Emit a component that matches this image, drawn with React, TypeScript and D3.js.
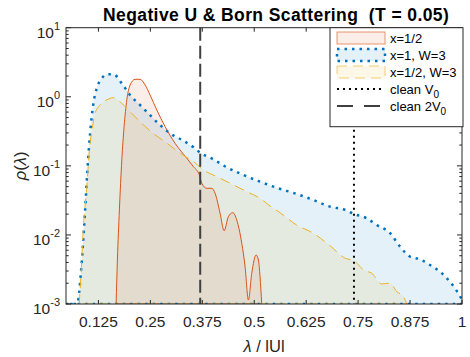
import * as d3 from 'd3';

// lambda / |U| and rho(lambda)
const redX = [0.1676, 0.1707, 0.1755, 0.1813, 0.1868, 0.1933, 0.2013, 0.2133, 0.2253, 0.2374, 0.2494, 0.2655, 0.2855, 0.3095, 0.3377, 0.3536, 0.368, 0.3738, 0.3858, 0.3979, 0.4058, 0.4178, 0.4275, 0.4378, 0.4484, 0.458, 0.47, 0.478, 0.486, 0.494, 0.5045, 0.51, 0.514, 0.518];
const redRho = [0.001, 0.00434, 0.023, 0.122, 0.369, 0.9, 1.48, 1.79, 1.79, 1.48, 1.06, 0.644, 0.369, 0.212, 0.129, 0.0973, 0.0738, 0.056, 0.0473, 0.0473, 0.0401, 0.0206, 0.0115, 0.0184, 0.021, 0.0164, 0.00757, 0.00347, 0.00114, 0.00278, 0.00512, 0.00434, 0.00248, 0.001];

const blueX = [0.047, 0.0738, 0.0827, 0.0875, 0.093, 0.0985, 0.105, 0.113, 0.121, 0.133, 0.145, 0.161, 0.181, 0.201, 0.221, 0.245, 0.269, 0.2975, 0.326, 0.354, 0.37, 0.402, 0.434, 0.474, 0.514, 0.558, 0.602, 0.642, 0.683, 0.719, 0.74, 0.771, 0.795, 0.827, 0.851, 0.875, 0.899, 0.923, 0.947, 0.971, 0.991, 1.0];
const blueRho = [0.001, 0.001, 0.00278, 0.00676, 0.0229, 0.0871, 0.295, 0.805, 1.33, 1.85, 2.12, 2.12, 1.57, 1.06, 0.805, 0.577, 0.413, 0.295, 0.237, 0.186, 0.155, 0.124, 0.0953, 0.0738, 0.059, 0.0473, 0.0392, 0.0321, 0.0256, 0.023, 0.0201, 0.0174, 0.0139, 0.0106, 0.00676, 0.00484, 0.00444, 0.00367, 0.00294, 0.0021, 0.00143, 0.00115];

const yelX = [0.0788, 0.0827, 0.0889, 0.0971, 0.1033, 0.109, 0.117, 0.129, 0.145, 0.161, 0.181, 0.205, 0.229, 0.257, 0.29, 0.322, 0.354, 0.378, 0.41, 0.442, 0.482, 0.514, 0.538, 0.562, 0.602, 0.642, 0.683, 0.719, 0.74, 0.763, 0.783, 0.807, 0.827, 0.843, 0.859, 0.867];
const yelRho = [0.001, 0.00248, 0.01315, 0.0499, 0.17, 0.313, 0.577, 0.76, 0.9, 0.97, 0.805, 0.577, 0.413, 0.295, 0.212, 0.152, 0.115, 0.0871, 0.0697, 0.056, 0.0423, 0.0339, 0.0262, 0.021, 0.0139, 0.0106, 0.00692, 0.00459, 0.00424, 0.0031, 0.00278, 0.00195, 0.002, 0.00151, 0.00128, 0.001];

const cleanV0 = 0.74;
const clean2V0 = 0.37;

const xTicks = [0.125, 0.25, 0.375, 0.5, 0.625, 0.75, 0.875, 1];
const xTickLabels = ['0.125', '0.25', '0.375', '0.5', '0.625', '0.75', '0.875', '1'];
const yExponents = [-3, -2, -1, 0, 1];

const legendLabels = ['x=1/2', 'x=1, W=3', 'x=1/2, W=3', 'clean V', 'clean 2V'];

const font = '"Liberation Sans", Arial, Helvetica, sans-serif';
const axisColor = '#262626';

export default function App() {
  const width = 470,
    height = 357,
    left = 66,
    right = 462,
    top = 27.7,
    bottom = 304;

  const x = d3.scaleLinear().domain([0.047, 1]).range([left, right]);
  const y = d3.scaleLog().domain([1e-3, 10]).range([bottom, top]);

  const area = d3
    .area<[number, number]>()
    .x((d) => x(d[0]))
    .y0(bottom)
    .y1((d) => y(d[1]))
    .curve(d3.curveMonotoneX);

  const series = [
    { xs: redX, ys: redRho, color: '#D95319', dash: undefined, sw: 1 },
    { xs: blueX, ys: blueRho, color: '#0072BD', dash: '2.5 5', sw: 2.5 },
    { xs: yelX, ys: yelRho, color: '#EDB120', dash: '10 6', sw: 1 },
  ];

  const minor: number[] = [];
  for (let e = -3; e < 1; e++) for (let m = 2; m < 10; m++) minor.push(m * 10 ** e);

  return (
    <svg width={width} height={height} style={{ display: 'block', position: 'absolute', left: 0, top: 0 }} fontFamily={font}>
      <defs>
        <clipPath id="plot">
          <rect x={left} y={top} width={right - left} height={bottom - top} />
        </clipPath>
      </defs>
      <rect x={0} y={0} width={width} height={height} fill="#fff" />

      <g clipPath="url(#plot)">
        {series.map((s, i) => (
          <path key={'f' + i} d={area(s.xs.map((v, j) => [v, s.ys[j]]) as [number, number][]) || ''} fill={s.color} fillOpacity={0.1} stroke="none" />
        ))}
        {series.map((s, i) => (
          <path key={'l' + i} d={area(s.xs.map((v, j) => [v, s.ys[j]]) as [number, number][]) || ''} fill="none" stroke={s.color} strokeWidth={s.sw} strokeDasharray={s.dash} />
        ))}
        <line x1={x(cleanV0)} x2={x(cleanV0)} y1={top} y2={bottom} stroke="#000" strokeWidth={2} strokeDasharray="2 4" />
        <line x1={x(clean2V0)} x2={x(clean2V0)} y1={top} y2={bottom} stroke="#404040" strokeWidth={2} strokeDasharray="13 5" />
      </g>

      {/* axes box and ticks */}
      <g stroke={axisColor} strokeWidth={1} fill="none">
        <rect x={left} y={top} width={right - left} height={bottom - top} />
        {xTicks.map((t) => (
          <g key={'xt' + t}>
            <line x1={x(t)} x2={x(t)} y1={bottom} y2={bottom - 4} />
            <line x1={x(t)} x2={x(t)} y1={top} y2={top + 4} />
          </g>
        ))}
        {yExponents.map((e) => (
          <g key={'yt' + e}>
            <line x1={left} x2={left + 5} y1={y(10 ** e)} y2={y(10 ** e)} />
            <line x1={right} x2={right - 5} y1={y(10 ** e)} y2={y(10 ** e)} />
          </g>
        ))}
        {minor.map((m, i) => (
          <g key={'ym' + i}>
            <line x1={left} x2={left + 2.7} y1={y(m)} y2={y(m)} />
            <line x1={right} x2={right - 2.7} y1={y(m)} y2={y(m)} />
          </g>
        ))}
      </g>

      {/* tick labels */}
      <g fill={axisColor} fontSize={15.5}>
        {xTicks.map((t, i) => (
          <text key={'xl' + t} x={x(t)} y={327} textAnchor="middle">
            {xTickLabels[i]}
          </text>
        ))}
        {yExponents.map((e) => (
          <text key={'yl' + e} x={60} y={y(10 ** e) + 10} textAnchor="end">
            10
            <tspan fontSize={11} dy={-8}>
              {e}
            </tspan>
          </text>
        ))}
      </g>

      {/* axis labels and title */}
      <text x={264} y={352} textAnchor="middle" fontSize={16.5} fill={axisColor}>
        <tspan fontStyle="italic">λ</tspan> / lUl
      </text>
      <text transform={`translate(26,${(top + bottom) / 2}) rotate(-90)`} textAnchor="middle" fontSize={16.5} fill={axisColor}>
        <tspan fontStyle="italic">ρ</tspan>(<tspan fontStyle="italic">λ</tspan>)
      </text>
      <text x={103} y={21} fontSize={17.5} letterSpacing={0.4} fontWeight="bold" fill="#000" xmlSpace="preserve" style={{ whiteSpace: 'pre' }}>
        {'Negative U & Born Scattering  (T = 0.05)'}
      </text>

      {/* legend */}
      <g>
        <rect x={330} y={top} width={133} height={99} fill="#fff" stroke={axisColor} strokeWidth={1} />
        {legendLabels.map((lab, i) => {
          const cy = 38 + i * 17;
          return (
            <g key={'lg' + i}>
              {i < 3 && (
                <rect
                  x={337}
                  y={cy - 6}
                  width={48}
                  height={12}
                  fill={series[i].color}
                  fillOpacity={0.1}
                  stroke={series[i].color}
                  strokeOpacity={i === 1 ? 1 : 0.6}
                  strokeWidth={series[i].sw}
                  strokeDasharray={series[i].dash}
                />
              )}
              {i === 3 && <line x1={337} x2={385} y1={cy} y2={cy} stroke="#000" strokeWidth={2} strokeDasharray="2 4" />}
              {i === 4 && <line x1={337} x2={385} y1={cy} y2={cy} stroke="#000" strokeWidth={1.5} strokeDasharray="16 11" />}
              <text x={390} y={cy + 4.5} fontSize={13} fill="#000">
                {lab}
                {i >= 3 && (
                  <tspan fontSize={10} dy={4}>
                    0
                  </tspan>
                )}
              </text>
            </g>
          );
        })}
      </g>
    </svg>
  );
}
